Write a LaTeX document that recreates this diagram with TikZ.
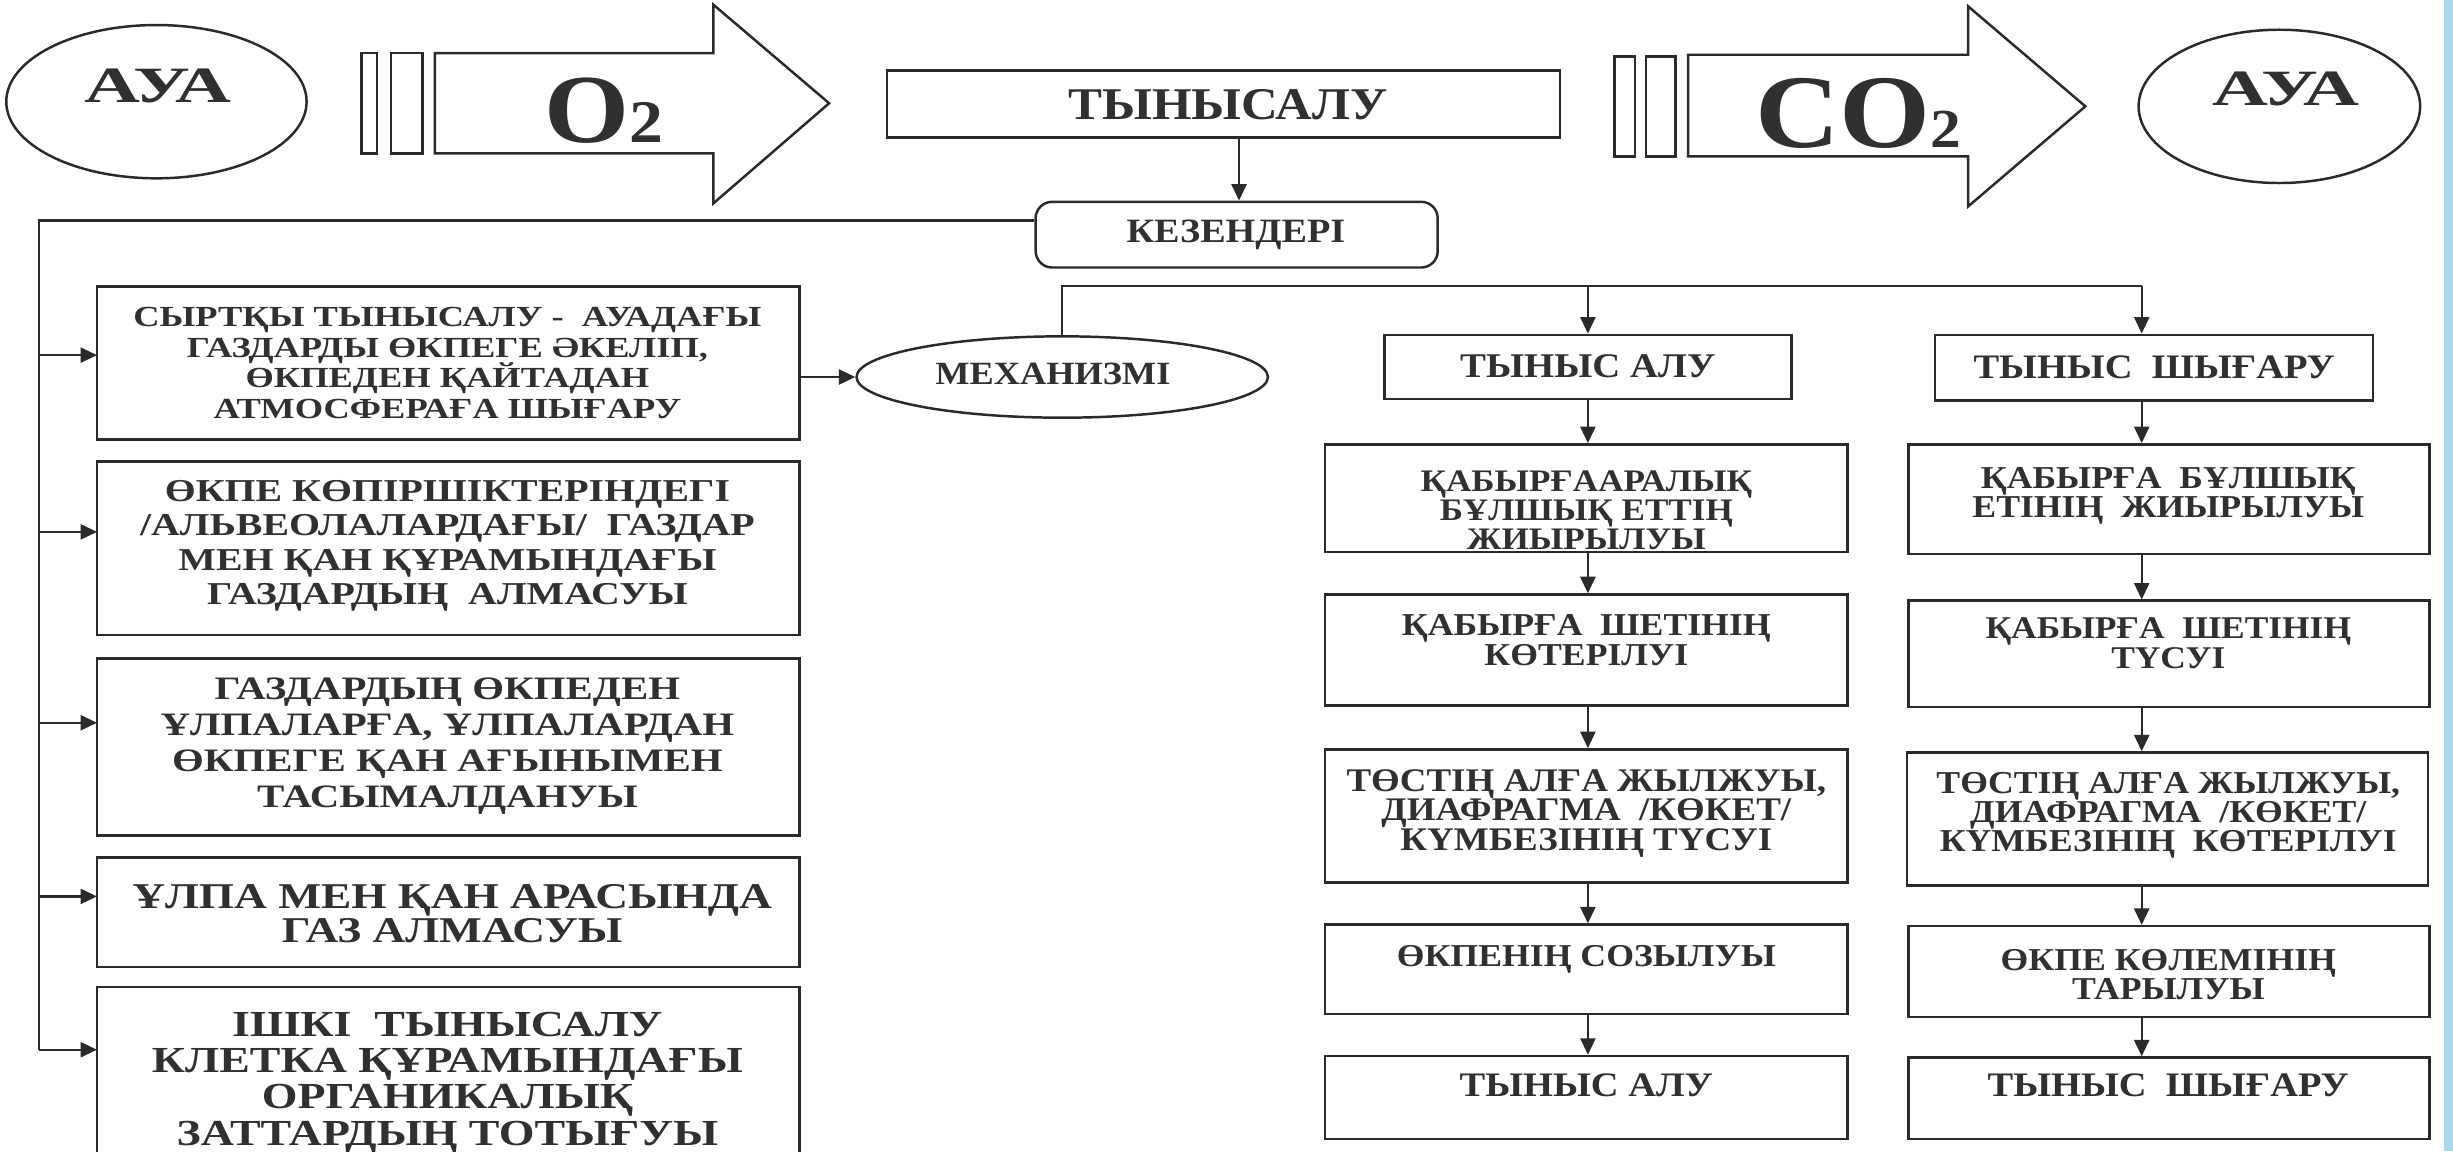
\documentclass[tikz,border=0pt]{standalone}
\usepackage{fontspec}
\setmainfont{Liberation Serif}[FakeStretch=1.12]
\newfontfamily\widefam{Liberation Serif}[FakeStretch=1.25]
\usepackage{graphicx}
\usetikzlibrary{arrows.meta,fit,shapes.geometric}
\definecolor{ink}{HTML}{2A2A2A}
\definecolor{txtc}{HTML}{303030}
\definecolor{scanblue}{HTML}{A9D7EE}
\newcommand{\fz}[2]{\bfseries\fontsize{#1}{#2}\selectfont\lineskiplimit=-50pt\relax}
\newcommand{\fw}[2]{\widefam\bfseries\fontsize{#1}{#2}\selectfont\lineskiplimit=-50pt\relax}
\begin{document}
\begin{tikzpicture}[x=0.02cm,y=-0.02cm,
  box/.style={draw=ink,line width=0.9pt,inner sep=0pt,rectangle},
  shp/.style={draw=ink,line width=0.9pt},
  lbl/.style={text=txtc,align=center,inner sep=0pt},
  arr/.style={draw=ink,line width=0.8pt,-{Triangle[length=6pt,width=5.5pt]}},
  ln/.style={draw=ink,line width=0.8pt}]
\useasboundingbox (0,0) rectangle (1568,736);
\fill[white] (0,0) rectangle (1568,736);
\fill[scanblue] (1562,0) rectangle (1568,736);

% ---------- top row ----------
\node[ellipse,shp,minimum width=3.84cm,minimum height=1.96cm,inner sep=0pt] (airL) at (100,65) {};
\node[lbl,font=\fz{18.5}{18.5}] (airLt) at (101,55) {\scalebox{1.36}[1]{АУА}};
\draw[shp] (231,34) rectangle (241,98);
\draw[shp] (250,34) rectangle (270,98);
\draw[shp] (278,34) -- (456,34) -- (456,3) -- (530,66) -- (456,130) -- (456,98) -- (278,98) -- cycle;
\node[lbl,anchor=base] (otwo) at (386,91) {\fz{35.5}{36}O\fz{22}{22}2};

\node[box,fit={(567,45) (997,88)}] (tyn) {};
\node[lbl,font=\fz{16.5}{16.5}] (tynt) at (785,67) {ТЫНЫСАЛУ};

\draw[shp] (1032,36) rectangle (1045,100);
\draw[shp] (1052,36) rectangle (1071,100);
\draw[shp] (1079,35) -- (1258,35) -- (1258,4) -- (1333,68) -- (1258,132) -- (1258,100) -- (1079,100) -- cycle;
\node[lbl,anchor=base] (ctwo) at (1188,94) {\fz{38}{38}CO\fz{20}{20}2};

\node[ellipse,shp,minimum width=3.6cm,minimum height=1.96cm,inner sep=0pt] (airR) at (1457,68) {};
\node[lbl,font=\fz{18.5}{18.5}] (airRt) at (1461,57) {\scalebox{1.36}[1]{АУА}};

% ---------- stages ----------
\node[box,rounded corners=6pt,fit={(662,129) (919,171)}] (kez) {};
\node[lbl,font=\fz{12.4}{12.4}] (kezt) at (790,150) {КЕЗЕНДЕРІ};
\coordinate (tx) at (792,0);
\draw[arr] (tyn.south -| tx) -- (kez.north -| tx);

\coordinate (lvt) at (25,141);
\coordinate (lvb) at (25,671);
\draw[ln] (kez.west |- lvt) -- (lvt) -- (lvb);

% ---------- left boxes ----------
\node[box,fit={(62,183) (511,281)}] (l1) {};
\node[box,fit={(62,295) (511,406)}] (l2) {};
\node[box,fit={(62,421) (511,534)}] (l3) {};
\node[box,fit={(62,548) (511,618)}] (l4) {};
\node[box,fit={(62,631) (511,770)}] (l5) {};
\node[lbl,font=\fw{10.6}{11.2}] (l1t) at (286,232) {СЫРТҚЫ ТЫНЫСАЛУ -~ АУАДАҒЫ\\ГАЗДАРДЫ ӨКПЕГЕ ӘКЕЛІП,\\ӨКПЕДЕН ҚАЙТАДАН\\АТМОСФЕРАҒА ШЫҒАРУ};
\node[lbl,font=\fw{11.6}{12.5}] (l2t) at (286,349) {ӨКПЕ КӨПІРШІКТЕРІНДЕГІ\\/АЛЬВЕОЛАЛАРДАҒЫ/~ ГАЗДАР\\МЕН ҚАН ҚҰРАМЫНДАҒЫ\\ГАЗДАРДЫҢ~ АЛМАСУЫ};
\node[lbl,font=\fw{11.9}{13.1}] (l3t) at (286,477) {ГАЗДАРДЫҢ ӨКПЕДЕН\\ҰЛПАЛАРҒА, ҰЛПАЛАРДАН\\ӨКПЕГЕ ҚАН АҒЫНЫМЕН\\ТАСЫМАЛДАНУЫ};
\node[lbl,font=\fw{13.2}{12.6}] (l4t) at (289,584) {ҰЛПА МЕН ҚАН АРАСЫНДА\\ГАЗ АЛМАСУЫ};
\node[lbl,font=\fw{13.35}{13.2}] (l5t) at (286,692) {ІШКІ~ ТЫНЫСАЛУ\\КЛЕТКА ҚҰРАМЫНДАҒЫ\\ОРГАНИКАЛЫҚ\\ЗАТТАРДЫҢ ТОТЫҒУЫ};

\coordinate (a1) at (62,227);
\coordinate (a2) at (62,340);
\coordinate (a3) at (62,462);
\coordinate (a4) at (62,573);
\coordinate (a5) at (62,671);
\foreach \a in {a1,a2,a3,a4,a5} \draw[arr] (lvt |- \a) -- (\a);

% ---------- mechanism ----------
\node[ellipse,shp,minimum width=5.26cm,minimum height=1.04cm,inner sep=0pt] (mech) at (679,241) {};
\node[lbl,font=\fz{11.8}{11.8}] (mecht) at (673,239) {МЕХАНИЗМІ};
\draw[arr] (l1.east |- mech.west) -- (mech.west);

\coordinate (hb) at (1369,183);
\coordinate (c1x) at (1015,183);
\draw[ln] (mech.north) -- (mech.north |- hb) -- (hb);

% ---------- inhalation column ----------
\node[box,fit={(885,214) (1145,255)}] (r1) {};
\node[box,fit={(847,284) (1181,353)}] (r2) {};
\node[box,fit={(847,380) (1181,451)}] (r3) {};
\node[box,fit={(847,479) (1181,564)}] (r4) {};
\node[box,fit={(847,591) (1181,648)}] (r5) {};
\node[box,fit={(847,675) (1181,728)}] (r6) {};
\node[lbl,font=\fz{12.6}{12.6}] (r1t) at (1015,234) {ТЫНЫС АЛУ};
\node[lbl,font=\fz{11.4}{10.5}] (r2t) at (1014,326) {ҚАБЫРҒААРАЛЫҚ\\БҰЛШЫҚ ЕТТІҢ\\ЖИЫРЫЛУЫ};
\node[lbl,font=\fz{11.6}{10.8}] (r3t) at (1014,409) {ҚАБЫРҒА~ ШЕТІНІҢ\\КӨТЕРІЛУІ};
\node[lbl,font=\fz{12}{10.6}] (r4t) at (1014,520) {ТӨСТІҢ АЛҒА ЖЫЛЖУЫ,\\ДИАФРАГМА~ /КӨКЕТ/\\КҮМБЕЗІНІҢ ТҮСУІ};
\node[lbl,font=\fz{11.6}{11.6}] (r5t) at (1014,613) {ӨКПЕНІҢ СОЗЫЛУЫ};
\node[lbl,font=\fz{12.5}{12.5}] (r6t) at (1014,694) {ТЫНЫС АЛУ};
\draw[arr] (c1x) -- (c1x |- r1.north);
\draw[arr] (c1x |- r1.south) -- (c1x |- r2.north);
\draw[arr] (c1x |- r2.south) -- (c1x |- r3.north);
\draw[arr] (c1x |- r3.south) -- (c1x |- r4.north);
\draw[arr] (c1x |- r4.south) -- (c1x |- r5.north);
\draw[arr] (c1x |- r5.south) -- (c1x |- r6.north);

% ---------- exhalation column ----------
\node[box,fit={(1237,214) (1517,256)}] (s1) {};
\node[box,fit={(1220,284) (1553,354)}] (s2) {};
\node[box,fit={(1220,384) (1553,452)}] (s3) {};
\node[box,fit={(1219,481) (1552,566)}] (s4) {};
\node[box,fit={(1220,592) (1553,650)}] (s5) {};
\node[box,fit={(1220,676) (1553,728)}] (s6) {};
\node[lbl,font=\fz{12.5}{12.5}] (s1t) at (1377,235) {ТЫНЫС~ ШЫҒАРУ};
\node[lbl,font=\fz{11.6}{10.6}] (s2t) at (1386,317) {ҚАБЫРҒА~ БҰЛШЫҚ\\ЕТІНІҢ~ ЖИЫРЫЛУЫ};
\node[lbl,font=\fz{11.5}{10.8}] (s3t) at (1386,411) {ҚАБЫРҒА~ ШЕТІНІҢ\\ТҮСУІ};
\node[lbl,font=\fz{11.6}{10.6}] (s4t) at (1386,521) {ТӨСТІҢ АЛҒА ЖЫЛЖУЫ,\\ДИАФРАГМА~ /КӨКЕТ/\\КҮМБЕЗІНІҢ~ КӨТЕРІЛУІ};
\node[lbl,font=\fz{11.6}{10.6}] (s5t) at (1386,623) {ӨКПЕ КӨЛЕМІНІҢ\\ТАРЫЛУЫ};
\node[lbl,font=\fz{12.5}{12.5}] (s6t) at (1386,694) {ТЫНЫС~ ШЫҒАРУ};
\draw[arr] (hb) -- (hb |- s1.north);
\draw[arr] (hb |- s1.south) -- (hb |- s2.north);
\draw[arr] (hb |- s2.south) -- (hb |- s3.north);
\draw[arr] (hb |- s3.south) -- (hb |- s4.north);
\draw[arr] (hb |- s4.south) -- (hb |- s5.north);
\draw[arr] (hb |- s5.south) -- (hb |- s6.north);
\end{tikzpicture}
\end{document}
